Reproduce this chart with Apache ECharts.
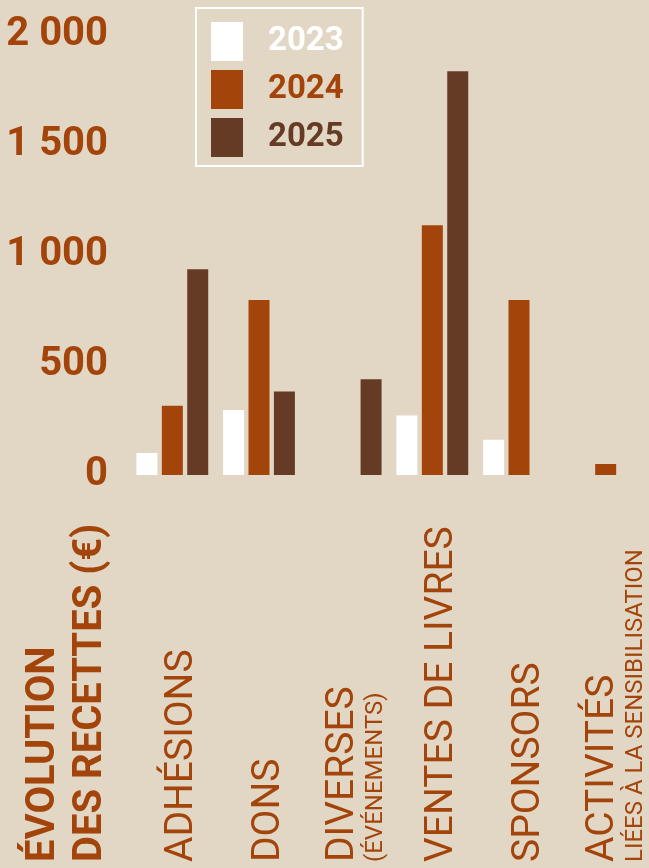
<!DOCTYPE html>
<html>
<head>
<meta charset="utf-8">
<script src="https://cdn.jsdelivr.net/npm/echarts@6/dist/echarts.min.js"></script>
<style>
  html, body { margin: 0; padding: 0; background: #e2d7c5; }
  #chart { width: 649px; height: 868px; }
</style>
</head>
<body>
<div id="chart"></div>
<script>
// recettes par catégorie, en euros
const categories = ['ADHÉSIONS', 'DONS', 'DIVERSES', 'VENTES DE LIVRES', 'SPONSORS', 'ACTIVITÉS'];
const subLabels = ['', '', '(ÉVÉNEMENTS)', '', '', 'LIÉES À LA SENSIBILISATION'];
const years = ['2023', '2024', '2025'];
const values2023 = [100, 295, null, 270, 160, null];
const values2024 = [315, 795, null, 1135, 795, 50];
const values2025 = [935, 380, 435, 1835, null, null];
const yTicks = [0, 500, 1000, 1500, 2000];

const bg = '#e2d7c5';
const orange = '#a3440b';
const brown = '#663b25';
const colors = ['#ffffff', orange, brown];

const chart = echarts.init(document.getElementById('chart'));

function fmtNumber(v) {
  return String(v).replace(/\B(?=(\d{3})+(?!\d))/g, ' ');
}

const seriesValues = [values2023, values2024, values2025];

chart.setOption({
  backgroundColor: bg,
  animation: false,
  textStyle: { fontFamily: 'Roboto' },
  grid: { left: 129, right: 0, top: 35, bottom: 393 },
  legend: {
    orient: 'vertical',
    left: 196,
    top: 8,
    padding: [14, 19, 9, 15],
    borderColor: '#ffffff',
    borderWidth: 2,
    itemWidth: 32,
    itemHeight: 39,
    itemGap: 9,
    icon: 'rect',
    textStyle: { fontSize: 33, fontWeight: 'bold', fontFamily: 'Roboto', padding: [0, 0, 0, 20] },
    data: years.map((y, i) => ({ name: y, textStyle: { color: colors[i] } }))
  },
  xAxis: {
    type: 'category',
    data: categories,
    axisLine: { show: false },
    axisTick: { show: false },
    axisLabel: {
      interval: 0,
      rotate: 90,
      align: 'left',
      verticalAlign: 'middle',
      margin: 387,
      padding: [20, 0, 0, 0],
      formatter: function (name, idx) {
        const sub = subLabels[idx];
        return sub ? '{main|' + name + '}\n{sub|' + sub + '}' : '{main|' + name + '}';
      },
      rich: {
        main: { fontSize: 39, fontFamily: 'Roboto', color: orange, lineHeight: 40 },
        sub: { fontSize: 24, fontFamily: 'Roboto', color: orange, lineHeight: 24 }
      }
    }
  },
  yAxis: {
    type: 'value',
    min: yTicks[0],
    max: yTicks[yTicks.length - 1],
    interval: 500,
    axisLine: { show: false },
    axisTick: { show: false },
    splitLine: { show: false },
    axisLabel: {
      margin: 21,
      fontSize: 40,
      fontWeight: 'bold',
      fontFamily: 'Roboto',
      color: orange,
      padding: [0, 0, 6, 0],
      formatter: fmtNumber
    }
  },
  graphic: [{
    type: 'text',
    x: 20,
    y: 862,
    rotation: Math.PI / 2,
    style: {
      text: 'ÉVOLUTION\nDES RECETTES (€)',
      fill: orange,
      fontSize: 40,
      fontWeight: 'bold',
      fontFamily: 'Roboto',
      lineHeight: 47,
      align: 'left',
      verticalAlign: 'top'
    }
  }],
  series: years.map((y, i) => ({
    name: y,
    type: 'bar',
    barWidth: 21,
    barGap: '21%',
    itemStyle: { color: colors[i] },
    data: seriesValues[i]
  }))
});
</script>
</body>
</html>
